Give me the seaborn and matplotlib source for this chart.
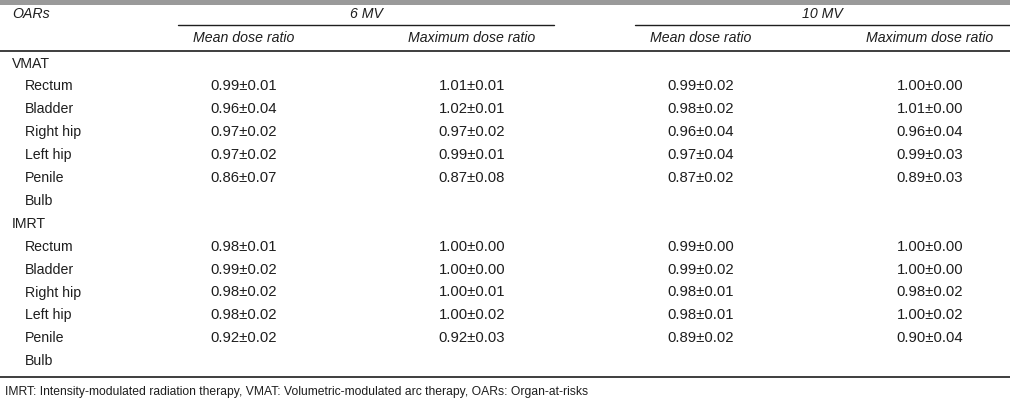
import matplotlib
matplotlib.use("Agg")
import matplotlib.pyplot as plt
import seaborn as sns

# Table of mean / maximum dose ratios per OAR, drawn as text on a blank axes

energies = ["6 MV", "10 MV"]
subheads = ["Mean dose ratio", "Maximum dose ratio"]

techniques = ["VMAT", "IMRT"]
organs = ["Rectum", "Bladder", "Right hip", "Left hip", "Penile\nBulb"]

vmat_6_mean = ["0.99±0.01", "0.96±0.04", "0.97±0.02", "0.97±0.02", "0.86±0.07"]
vmat_6_max = ["1.01±0.01", "1.02±0.01", "0.97±0.02", "0.99±0.01", "0.87±0.08"]
vmat_10_mean = ["0.99±0.02", "0.98±0.02", "0.96±0.04", "0.97±0.04", "0.87±0.02"]
vmat_10_max = ["1.00±0.00", "1.01±0.00", "0.96±0.04", "0.99±0.03", "0.89±0.03"]

imrt_6_mean = ["0.98±0.01", "0.99±0.02", "0.98±0.02", "0.98±0.02", "0.92±0.02"]
imrt_6_max = ["1.00±0.00", "1.00±0.00", "1.00±0.01", "1.00±0.02", "0.92±0.03"]
imrt_10_mean = ["0.99±0.00", "0.99±0.02", "0.98±0.01", "0.98±0.01", "0.89±0.02"]
imrt_10_max = ["1.00±0.00", "1.00±0.00", "0.98±0.02", "1.00±0.02", "0.90±0.04"]

footnote = ("IMRT: Intensity-modulated radiation therapy, VMAT: Volumetric-modulated "
            "arc therapy, OARs: Organ-at-risks")

sns.set_theme(style="white")
plt.rcParams['font.family'] = ['Liberation Sans', 'DejaVu Sans']

fig = plt.figure(figsize=(10.1, 4.0), dpi=100)
ax = fig.add_axes([0, 0, 1, 1])
ax.set_xlim(0, 1010)
ax.set_ylim(400, 0)
ax.axis("off")

txt = "#1e1e1e"
fs = 10.2
fs_val = 10.7
col_x = [244, 472, 701, 930]
group_x = [(178, 554), (635, 1010)]

# header
ax.axhspan(0, 4.5, color="#9a9a9a", lw=0)
ax.text(12, 14, "OARs", style="italic", fontsize=fs, color=txt, va="center")
for (x0, x1), e in zip(group_x, energies):
    ax.text((x0 + x1) / 2, 14, e, style="italic", fontsize=fs, color=txt,
            ha="center", va="center")
    ax.plot([x0, x1], [25, 25], color=txt, lw=1)
for i, x in enumerate(col_x):
    ax.text(x, 38, subheads[i % 2], style="italic", fontsize=fs, color=txt,
            ha="center", va="center")
ax.plot([0, 1010], [50.5, 50.5], color=txt, lw=1.2)

# body
blocks = [
    (vmat_6_mean, vmat_6_max, vmat_10_mean, vmat_10_max),
    (imrt_6_mean, imrt_6_max, imrt_10_mean, imrt_10_max),
]
row_h = 22.9
y0 = 63.5
row = 0
for tech, cols in zip(techniques, blocks):
    ax.text(12, y0 + row * row_h, tech, fontsize=fs, color=txt, va="center")
    row += 1
    for k, organ in enumerate(organs):
        y = y0 + row * row_h
        for part_i, part in enumerate(organ.split("\n")):
            ax.text(25, y + part_i * row_h, part, fontsize=fs, color=txt, va="center")
        for x, vals in zip(col_x, cols):
            ax.text(x, y, vals[k], fontsize=fs_val, color=txt, ha="center", va="center")
        row += len(organ.split("\n"))

ax.plot([0, 1010], [376.5, 376.5], color=txt, lw=1.2)
ax.text(5, 392, footnote, fontsize=8.75, color=txt, va="center")

fig.savefig("out.png", dpi=100)
